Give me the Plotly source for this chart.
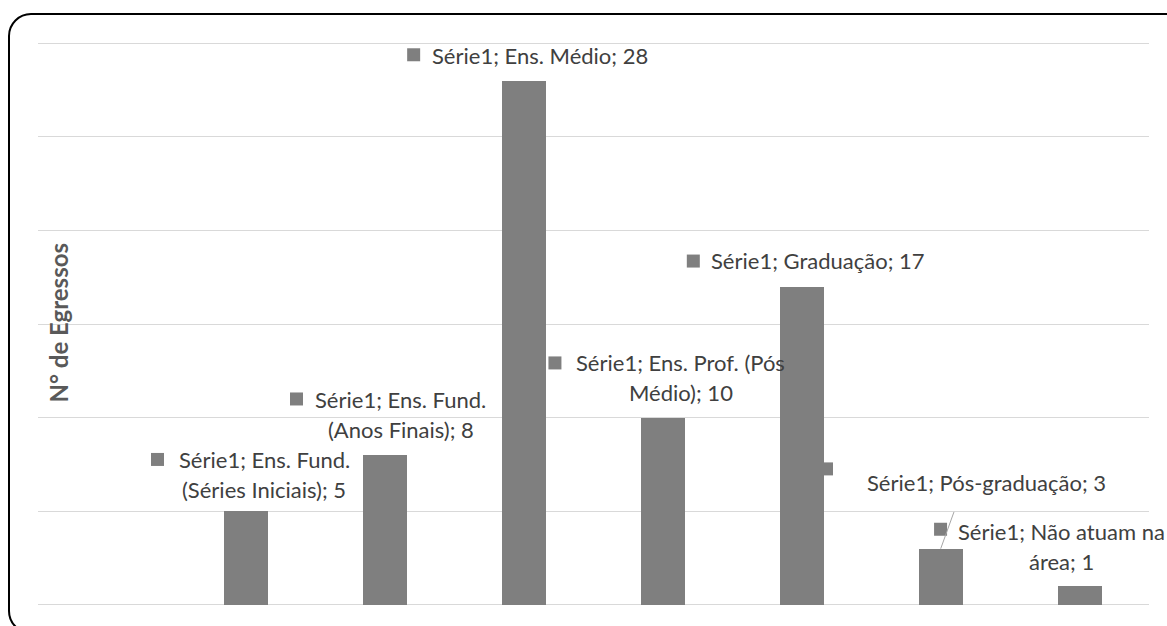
import plotly.graph_objects as go

# ---------------- data ----------------
series_name = "Série1"
categories = ["", "Ens. Fund. (Séries Iniciais)", "Ens. Fund. (Anos Finais)", "Ens. Médio",
              "Ens. Prof. (Pós Médio)", "Graduação", "Pós-graduação", "Não atuam na área"]
values = [None, 5, 8, 28, 10, 17, 3, 1]
y_title = "N° de Egressos"

# ---------------- layout helpers (positions / styles) ----------------
W, H = 1167, 626
ML, MR, MT, MB = 38, 18, 42, 20
PW, PH = W - ML - MR, H - MT - MB
Y_RANGE = [-0.06, 30.06]

BAR_COLOR = "#7f7f7f"
TEXT_COLOR = "#404040"
FONT = "Lato"
FS = 22
LINE_GAP = 30

# words on first line of each data label (None = single line)
first_line_words = [None, 3, 3, None, 4, None, None, 4]
# label offsets in pixels from the bar top (dx right, up = upward) for line 1
label_dx = [0, 17.7, 15.8, 16.4, 17.7, 16.2, 46, -18]
label_up = [0, 51.5, 55.8, 25.5, 54.7, 26.5, 65.8, 54.3]
key_dx = [0, -88.8, -88.7, -110.4, -108, -108.5, -114.2, -139]
key_up = [0, 51.8, 56.1, 25.8, 54.7, 25.5, 79.8, 56.9]
KEY = 13

x_idx = list(range(len(categories)))

fig = go.Figure()
fig.add_trace(go.Bar(
    x=x_idx, y=values, width=0.317, marker=dict(color=BAR_COLOR, line=dict(width=0)),
    hovertext=categories, name=series_name,
))

annotations = []
shapes = []
for i, (cat, v) in enumerate(zip(categories, values)):
    if v is None:
        continue
    words = f"{series_name}; {cat}; {v}".split(" ")
    n = first_line_words[i]
    lines = [" ".join(words)] if n is None else [" ".join(words[:n]), " ".join(words[n:])]
    for k, ln in enumerate(lines):
        annotations.append(dict(
            x=i, y=v, xref="x", yref="y", text=ln, showarrow=False,
            xanchor="center", yanchor="middle",
            xshift=label_dx[i], yshift=label_up[i] - k * LINE_GAP,
            font=dict(family=FONT, size=FS, color=TEXT_COLOR),
        ))
    shapes.append(dict(
        type="rect", xref="x", yref="y", xsizemode="pixel", ysizemode="pixel",
        xanchor=i, yanchor=v,
        x0=key_dx[i] - KEY / 2, x1=key_dx[i] + KEY / 2,
        y0=key_up[i] - KEY / 2, y1=key_up[i] + KEY / 2,
        fillcolor=BAR_COLOR, line=dict(width=0), layer="above",
    ))

# leader line for the "Pós-graduação" label
shapes.append(dict(
    type="line", xref="x", yref="y", xsizemode="pixel", ysizemode="pixel",
    xanchor=6, yanchor=values[6], x0=0, y0=0, x1=13.3, y1=36.8,
    line=dict(color="#a6a6a6", width=1), layer="above",
))


def px(xp, yp):
    return (xp - ML) / PW, (H - MB - yp) / PH


# axis title drawn inside the chart area
tx, ty = px(58, 322.5)
annotations.append(dict(
    x=tx, y=ty, xref="paper", yref="paper",
    text=f"<b>{y_title}</b>", textangle=-90, showarrow=False,
    xanchor="center", yanchor="middle",
    font=dict(family=FONT, size=24, color="#595959"),
))


# rounded chart frame
def frame_path(x0, y0, x1, y1, r):
    c = 0.5523 * r

    def P(a, b):
        u, w = px(a, b)
        return f"{u:.5f},{w:.5f}"
    d = f"M {P(x0 + r, y0)} L {P(x1 - r, y0)} "
    d += f"C {P(x1 - r + c, y0)} {P(x1, y0 + r - c)} {P(x1, y0 + r)} "
    d += f"L {P(x1, y1 - r)} "
    d += f"C {P(x1, y1 - r + c)} {P(x1 - r + c, y1)} {P(x1 - r, y1)} "
    d += f"L {P(x0 + r, y1)} "
    d += f"C {P(x0 + r - c, y1)} {P(x0, y1 - r + c)} {P(x0, y1 - r)} "
    d += f"L {P(x0, y0 + r)} "
    d += f"C {P(x0, y0 + r - c)} {P(x0 + r - c, y0)} {P(x0 + r, y0)} Z"
    return d


shapes.append(dict(
    type="path", xref="paper", yref="paper", path=frame_path(9, 14, 1190, 633, 22),
    line=dict(color="black", width=2), fillcolor="rgba(0,0,0,0)", layer="above",
))

fig.update_layout(
    width=W, height=H, autosize=False,
    margin=dict(l=ML, r=MR, t=MT, b=MB, pad=0),
    paper_bgcolor="white", plot_bgcolor="white",
    showlegend=False, bargap=0,
    xaxis=dict(range=[-0.5, len(categories) - 0.5], showgrid=False, showticklabels=False,
               zeroline=False, showline=False, ticks=""),
    yaxis=dict(range=Y_RANGE, dtick=5, tick0=0, showgrid=True, gridcolor="#d9d9d9", gridwidth=1,
               showticklabels=False, zeroline=False, showline=False, ticks=""),
    annotations=annotations, shapes=shapes,
)

fig.write_html("out.html")
